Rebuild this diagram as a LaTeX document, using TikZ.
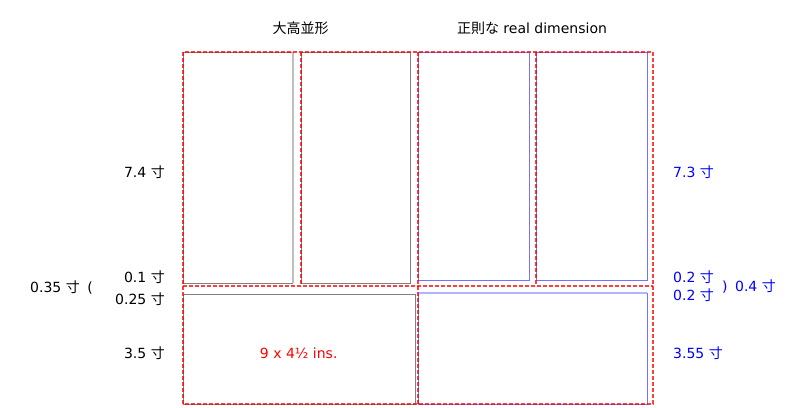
\documentclass[tikz,border=0pt]{standalone}
\usepackage{fontspec}
\setmainfont{DejaVu Sans}
\newfontfamily\cjk{Noto Sans CJK JP}
\newcommand\jp[1]{{\cjk #1}}
\begin{document}
\begin{tikzpicture}[x=1pt,y=-1pt,
  graybox/.style={draw=gray, line width=1pt},
  bluebox/.style={draw=blue!55, line width=1pt},
  reddash/.style={draw=red, line width=1.4pt, dash pattern=on 4pt off 2pt, opacity=0.75},
  lbl/.style={font=\fontsize{14}{16}\selectfont, inner sep=0pt},
  blbl/.style={lbl, text=blue},
]
\useasboundingbox (0,0) rectangle (800,407);
% grey boxes (left)
\draw[graybox] (293,52) -- (183,52) -- (183,283) -- (293,283);
\draw[draw=gray!50, line width=2pt] (293,52) -- (293,283);
\draw[graybox] (301,52) rectangle (410.3,283);
\draw[graybox] (183,294) rectangle (415.7,404);
% blue boxes (right)
\draw[bluebox] (418,52) rectangle (529.3,280);
\draw[bluebox] (536,52) rectangle (647.3,280);
\draw[bluebox] (418,293) -- (418,404) -- (647.3,404) -- (647.3,293);
\draw[draw=blue!30, line width=2pt] (418,293) -- (647.3,293);
% red dashed frame
\draw[reddash] (183,52) rectangle (653,404);
\draw[reddash] (183,286) -- (653,286);
\draw[reddash] (418,52) -- (418,404);
\draw[reddash] (301,52) -- (301,286);
\draw[reddash] (536,52) -- (536,286);
% titles
\node[lbl] (t1) at (300.5,28) {\jp{大高並形}};
\node[lbl] (t2) at (532,28) {\jp{正則な} real dimension};
% left labels
\node[lbl, anchor=east] (a1) at (165,172) {7.4 \jp{寸}};
\node[lbl, anchor=east] (a2) at (165,277) {0.1 \jp{寸}};
\node[lbl, anchor=east] (a3) at (165,299) {0.25 \jp{寸}};
\node[lbl, anchor=west] (a4) at (30,288) {0.35 \jp{寸}\hspace{3pt} (};
\node[lbl, anchor=east] (a5) at (165,353) {3.5 \jp{寸}};
\node[lbl, text=red] (a6) at (298.7,353) {9 x 4½ ins.};
% right labels
\node[blbl, anchor=west] (b1) at (673,172) {7.3 \jp{寸}};
\node[blbl, anchor=west] (b2) at (673,277) {0.2 \jp{寸}};
\node[blbl, anchor=west] (b3) at (673,295) {0.2 \jp{寸}};
\node[blbl, anchor=west] (b4) at (722,287) {)\hspace{3pt} 0.4 \jp{寸}};
\node[blbl, anchor=west] (b5) at (673,353) {3.55 \jp{寸}};
\end{tikzpicture}
\end{document}
